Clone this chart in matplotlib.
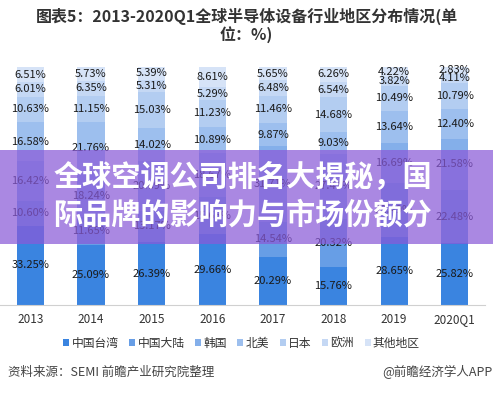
import matplotlib.pyplot as plt
import numpy as np
from matplotlib.patches import Rectangle

plt.rcParams['font.family'] = ['Noto Sans CJK SC', 'DejaVu Sans']

years = ['2013', '2014', '2015', '2016', '2017', '2018', '2019', '2020Q1']
regions = ['中国台湾', '中国大陆', '韩国', '北美', '日本', '欧洲', '其他地区']

taiwan = [33.25, 25.09, 26.39, 29.66, 20.29, 15.76, 28.65, 25.82]
mainland = [10.60, 11.65, 13.17, 15.65, 14.54, 20.32, 22.49, 22.48]
korea = [16.42, 18.24, 20.69, 18.67, 31.71, 27.41, 16.69, 21.58]
north_america = [16.58, 21.76, 14.02, 10.89, 9.87, 9.03, 13.64, 12.40]
japan = [10.63, 11.15, 15.03, 11.23, 11.46, 14.68, 10.49, 10.79]
europe = [6.01, 6.35, 5.31, 5.29, 6.48, 6.54, 3.82, 4.11]
others = [6.51, 5.73, 5.39, 8.61, 5.65, 6.26, 4.22, 2.83]

series = [taiwan, mainland, korea, north_america, japan, europe, others]
colors = ['#3a84e0', '#679ee6', '#84afea', '#9dbfee', '#b3cdf1', '#c5d8f4', '#d6e3f7']

fig = plt.figure(figsize=(4.93, 3.93), dpi=100)
ax = fig.add_axes([0.0, 0.224, 0.984, 0.606])

x = np.arange(len(years))
bottom = np.zeros(len(years))
for name, vals, c in zip(regions, series, colors):
    vals = np.array(vals)
    ax.bar(x, vals, 0.45, bottom=bottom, color=c, label=name)
    for xi, b, v in zip(x, bottom, vals):
        ax.text(xi, b + v / 2, f'{v:.2f}%', ha='center', va='center',
                fontsize=8, color='#1a1a1a')
    bottom += vals

ax.set_xlim(-0.5, len(years) - 0.5)
ax.set_ylim(0, 100)
ax.set_yticks([])
ax.set_xticks(x)
ax.set_xticklabels(years, fontsize=8.5, color='#333333')
ax.tick_params(axis='x', length=0, pad=6)
for s in ['top', 'right', 'left']:
    ax.spines[s].set_visible(False)
ax.spines['bottom'].set_color('#d0d0d0')

fig.text(0.5, 0.957, '图表5：2013-2020Q1全球半导体设备行业地区分布情况(单',
         ha='center', va='center', fontsize=11.5, fontweight='bold', color='#333333')
fig.text(0.5, 0.913, '位：%)', ha='center', va='center',
         fontsize=11.5, fontweight='bold', color='#333333')

handles, labels = ax.get_legend_handles_labels()
fig.legend(handles, labels, loc='center', bbox_to_anchor=(0.49, 0.127), ncol=7,
           frameon=False, fontsize=8.5, handlelength=0.5, handleheight=0.5,
           handletextpad=0.2, columnspacing=0.9, labelcolor='#333333')

fig.text(0.016, 0.053, '资料来源：SEMI 前瞻产业研究院整理', ha='left', va='center',
         fontsize=9, color='#444444')
fig.text(0.998, 0.053, '@前瞻经济学人APP', ha='right', va='center',
         fontsize=9, color='#444444')

# banner overlay
fig.patches.append(Rectangle((0, 1 - 244 / 393), 1, 94 / 393, transform=fig.transFigure,
                             facecolor='#8a5ad8', alpha=0.72, zorder=5))
fig.text(0.108, 1 - 177 / 393, '全球空调公司排名大揭秘，国', ha='left', va='center',
         fontsize=21, fontweight='bold', color='white', zorder=6)
fig.text(0.108, 1 - 215 / 393, '际品牌的影响力与市场份额分', ha='left', va='center',
         fontsize=21, fontweight='bold', color='white', zorder=6)

fig.savefig('out.png', dpi=100)
